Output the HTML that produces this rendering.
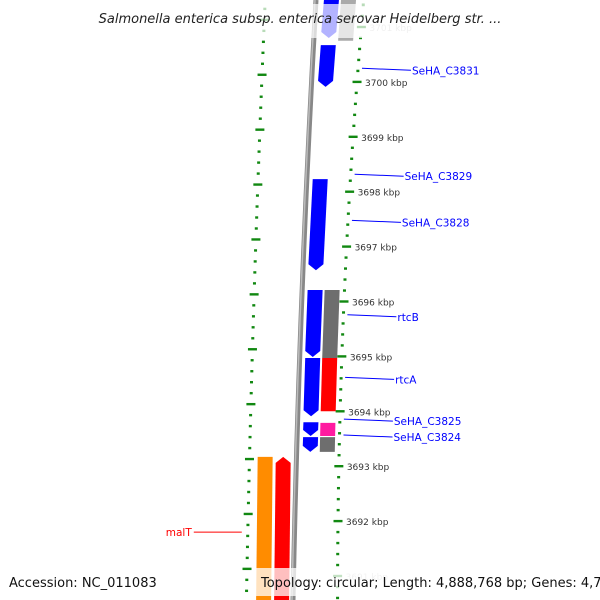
<!DOCTYPE html>
<html><head><meta charset="utf-8"><style>
body{margin:0;background:#fff}
svg{display:block;font-family:"DejaVu Sans","Liberation Sans",sans-serif}
</style></head><body>
<svg width="600" height="600" viewBox="0 0 600 600" id="map">
<g id="ticks"></g>
<path d="M316,0 Q299,300 293,600" stroke="#888" stroke-width="5" fill="none"/>
<path d="M315,0 Q298,300 292,600" stroke="#bbb" stroke-width="1.5" fill="none"/>
<g id="genes"></g>
<g id="labels"></g>
<rect x="85" y="4" width="430" height="34" fill="#fff" opacity="0.7"/>
<text x="300" y="23" text-anchor="middle" font-size="13" font-style="italic" fill="#222">Salmonella enterica subsp. enterica serovar Heidelberg str. ...</text>
<rect x="256" y="568" width="338" height="28" fill="#fff" opacity="0.75"/>
<text x="9" y="587" font-size="13" fill="#111">Accession: NC_011083</text>
<text x="261" y="587" font-size="13" fill="#111">Topology: circular; Length: 4,888,768 bp; Genes: 4,756</text>
</svg>
<script>
const majorKbp=[3701,3700,3699,3698,3697,3696,3695,3694,3693,3692,3691];
const geneStart=[3701.6,3700.67,3698.23,3696.21,3694.97,3693.80,3693.53,3701.6,3696.21,3694.97,3693.79,3693.53,3693.17,3693.17];
const geneEnd=[3700.80,3699.91,3696.57,3694.99,3693.91,3693.55,3693.26,3700.75,3694.97,3694.0,3693.55,3693.26,3690.4,3690.4];
const geneLane=[2,2,2,2,2,2,2,3,3,3,3,3,0,1];
const geneColor=["#0000ff","#0000ff","#0000ff","#0000ff","#0000ff","#0000ff","#0000ff","#aaaaaa","#6e6e6e","#ff0000","#ff1aa0","#6e6e6e","#ff8c00","#ff0000"];
const geneDir=[-1,-1,-1,-1,-1,-1,-1,0,0,0,0,0,0,1];
const labelText=["SeHA_C3831","SeHA_C3829","SeHA_C3828","rtcB","rtcA","SeHA_C3825","SeHA_C3824","malT"];
const labelKbp=[3700.23,3698.3,3697.46,3695.74,3694.6,3693.84,3693.55,3691.8];
const labelSide=[1,1,1,1,1,1,1,-1];
const NS="http://www.w3.org/2000/svg";
const PX=54.9,Y0=27;
const yOf=k=>Y0+(3701-k)*PX;
const rX=y=>363.7-0.0874*y+0.0000731*y*y;
const lX=y=>265.2-0.0437*y+0.0000206*y*y;
const bX=y=>316-0.0735*y+0.0000587*y*y;
const laneOff=[-37,-19,8,25],LW=15;
function mk(t,a,p){const e=document.createElementNS(NS,t);for(const k in a)e.setAttribute(k,a[k]);(p||document.getElementById('map')).appendChild(e);return e;}
const tg=document.getElementById('ticks');
for(let i=0;i<=55;i++){
  const k=3701.6-i*0.2;const y=yOf(k);if(y<0||y>600)continue;
  const maj=Math.abs(k-Math.round(k))<0.01;
  const w=maj?9:3;
  let e=mk('rect',{x:rX(y)-w/2,y:y-1.2,width:w,height:2.4,fill:'#118811'},tg);
  
  const yl=yOf(k+0.13);
  e=mk('rect',{x:lX(yl)-w/2,y:yl-1.2,width:w,height:2.4,fill:'#118811'},tg);
  
}
majorKbp.forEach(k=>{const y=yOf(k);
  const t=mk('text',{x:rX(y)+8,y:y+4,'font-size':9,fill:(k===3701||k===3691)?'#ccc':'#333'},tg);
  
  t.textContent=k+' kbp';});
const gg=document.getElementById('genes');
geneStart.forEach((s,i)=>{
  const y1=yOf(s),y2=yOf(geneEnd[i]);const o=laneOff[geneLane[i]];
  const a1=bX(y1)+o,a2=bX(y2)+o;const h=6,d=geneDir[i];
  let pts;
  if(d===-1)pts=[[a1,y1],[a1+LW,y1],[a2+LW,y2-h],[a2+LW/2,y2],[a2,y2-h]];
  else if(d===1)pts=[[a1,y1+h],[a1+LW/2,y1],[a1+LW,y1+h],[a2+LW,y2],[a2,y2]];
  else pts=[[a1,y1],[a1+LW,y1],[a2+LW,y2],[a2,y2]];
  const p=mk('polygon',{points:pts.map(q=>q.join(',')).join(' '),fill:geneColor[i]},gg);
  
  
});
const lg=document.getElementById('labels');
labelText.forEach((t,i)=>{const y=yOf(labelKbp[i]);
  if(labelSide[i]===1){const x0=rX(y)+4;
    const l=mk('line',{x1:x0,y1:y-1,x2:x0+49,y2:y+1,stroke:'#0000ff'},lg);
    
    const tx=mk('text',{x:x0+50,y:y+5,'font-size':10.5,fill:'#0000ff'},lg);
    tx.textContent=t;
  }else{const x0=lX(y)-6;
    const l=mk('line',{x1:x0-48,y1:y,x2:x0,y2:y,stroke:'#ff0000'},lg);
    
    const tx=mk('text',{x:x0-50,y:y+4,'font-size':10.5,fill:'#ff0000','text-anchor':'end'},lg);
    tx.textContent=t;}
});
</script>
</body></html>
